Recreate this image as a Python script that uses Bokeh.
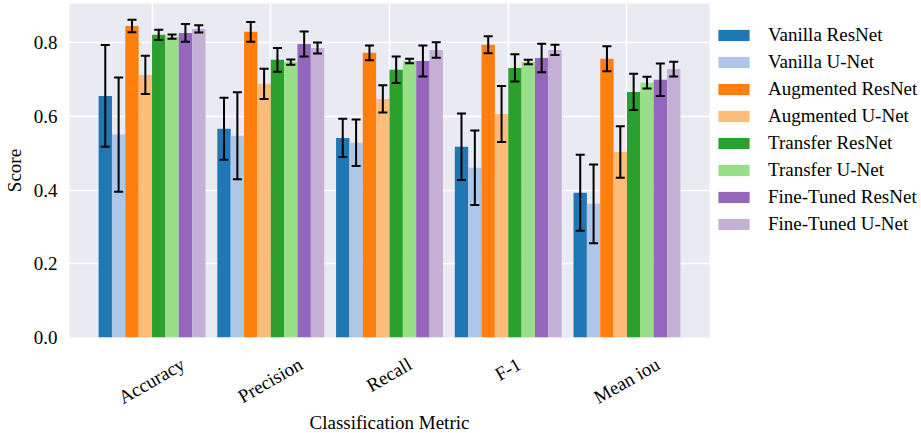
import math
from bokeh.plotting import figure
from bokeh.models import (ColumnDataSource, Range1d, FixedTicker, Legend, LegendItem)
from bokeh.embed import file_html
from bokeh.resources import INLINE

metrics = ["Accuracy", "Precision", "Recall", "F-1", "Mean iou"]
models = ["Vanilla ResNet", "Vanilla U-Net", "Augmented ResNet", "Augmented U-Net",
          "Transfer ResNet", "Transfer U-Net", "Fine-Tuned ResNet", "Fine-Tuned U-Net"]
colors = ["#1f77b4", "#aec7e8", "#ff7f0e", "#ffbb78",
          "#2ca02c", "#98df8a", "#9467bd", "#c5b0d5"]
y_ticks = [0.0, 0.2, 0.4, 0.6, 0.8]

# mean scores per model, in metric order
vanilla_resnet = [0.656, 0.567, 0.542, 0.518, 0.393]
vanilla_unet = [0.551, 0.548, 0.529, 0.461, 0.363]
augmented_resnet = [0.846, 0.830, 0.773, 0.795, 0.757]
augmented_unet = [0.713, 0.689, 0.648, 0.607, 0.504]
transfer_resnet = [0.822, 0.754, 0.727, 0.732, 0.667]
transfer_unet = [0.817, 0.748, 0.751, 0.748, 0.692]
finetuned_resnet = [0.827, 0.797, 0.751, 0.759, 0.700]
finetuned_unet = [0.838, 0.786, 0.781, 0.781, 0.729]

# error (half-length of error bar)
vanilla_resnet_err = [0.138, 0.084, 0.052, 0.090, 0.103]
vanilla_unet_err = [0.155, 0.118, 0.063, 0.101, 0.107]
augmented_resnet_err = [0.017, 0.027, 0.020, 0.023, 0.034]
augmented_unet_err = [0.052, 0.041, 0.037, 0.076, 0.070]
transfer_resnet_err = [0.014, 0.032, 0.036, 0.037, 0.049]
transfer_unet_err = [0.006, 0.007, 0.006, 0.006, 0.016]
finetuned_resnet_err = [0.024, 0.034, 0.042, 0.039, 0.044]
finetuned_unet_err = [0.010, 0.015, 0.021, 0.014, 0.020]

series = [vanilla_resnet, vanilla_unet, augmented_resnet, augmented_unet,
          transfer_resnet, transfer_unet, finetuned_resnet, finetuned_unet]
errors = [vanilla_resnet_err, vanilla_unet_err, augmented_resnet_err, augmented_unet_err,
          transfer_resnet_err, transfer_unet_err, finetuned_resnet_err, finetuned_unet_err]

FONT = "Liberation Serif"
FS = "19px"
n = len(models)
bw = 0.9 / n
FRAME_W = 640
X0, X1 = -0.695, 4.695
px_per_unit = FRAME_W / (X1 - X0)

# Bokeh anchors angled labels at their right end; nudge anchors (in px) so that
# each rotated label is centred below its group, as in the reference
label_nudge_px = [31.0, 30.0, 20.5, 11.0, 31.0]

p = figure(frame_width=FRAME_W, frame_height=334, output_backend="svg", toolbar_location=None,
           x_range=Range1d(X0, X1), y_range=Range1d(0, 0.907),
           min_border_left=62, min_border_top=3, min_border_bottom=0, min_border_right=0)
p.background_fill_color = "#eaeaf2"
p.border_fill_color = "white"
p.outline_line_color = None

items = []
for j, (name, vals, errs, col) in enumerate(zip(models, series, errors, colors)):
    xs = [i + (j - (n - 1) / 2) * bw for i in range(len(metrics))]
    src = ColumnDataSource(dict(x=xs, top=vals,
                                upper=[v + e for v, e in zip(vals, errs)],
                                lower=[v - e for v, e in zip(vals, errs)]))
    r = p.vbar(x="x", top="top", width=bw, source=src, fill_color=col, line_color=None)
    items.append(LegendItem(label=name, renderers=[r]))
    p.segment(x0="x", x1="x", y0="lower", y1="upper", source=src,
              line_color="black", line_width=2)
    p.dash(x="x", y="upper", source=src, size=9, line_color="black", line_width=2)
    p.dash(x="x", y="lower", source=src, size=9, line_color="black", line_width=2)

label_pos = [i + d / px_per_unit for i, d in enumerate(label_nudge_px)]
p.xaxis.ticker = FixedTicker(ticks=label_pos)
p.xaxis.major_label_overrides = {t: m for t, m in zip(label_pos, metrics)}
p.xaxis.major_label_orientation = math.pi / 6
p.yaxis.ticker = FixedTicker(ticks=y_ticks)
p.yaxis.major_label_overrides = {t: f"{t:.1f}" for t in y_ticks}

for ax in (p.xaxis[0], p.yaxis[0]):
    ax.axis_line_color = None
    ax.major_tick_line_color = None
    ax.minor_tick_line_color = None
    ax.major_tick_out = 0
    ax.major_tick_in = 0
    ax.minor_tick_out = 0
    ax.minor_tick_in = 0
    ax.major_label_text_font = FONT
    ax.major_label_text_font_size = FS
    ax.major_label_text_color = "black"
    ax.axis_label_text_font = FONT
    ax.axis_label_text_font_size = FS
    ax.axis_label_text_font_style = "normal"
    ax.axis_label_text_color = "black"

p.xaxis.axis_label = "Classification Metric"
p.yaxis.axis_label = "Score"
p.xaxis.major_label_standoff = 25
p.yaxis.major_label_standoff = 12
p.xaxis.axis_label_standoff = -8
p.yaxis.axis_label_standoff = 6

p.xgrid.grid_line_color = "white"
p.ygrid.grid_line_color = "white"
p.xgrid.grid_line_width = 1.5
p.ygrid.grid_line_width = 1.5
p.xgrid.ticker = FixedTicker(ticks=list(range(len(metrics))))
p.ygrid.ticker = FixedTicker(ticks=y_ticks)

legend = Legend(items=items, location=(5, 102),
                label_text_font=FONT, label_text_font_size=FS, label_text_color="black",
                glyph_width=39, glyph_height=14, label_height=14, label_standoff=15,
                spacing=5, padding=0, margin=0,
                border_line_color=None, background_fill_alpha=0)
p.add_layout(legend, "right")

open("out.html", "w").write(file_html(p, INLINE))
